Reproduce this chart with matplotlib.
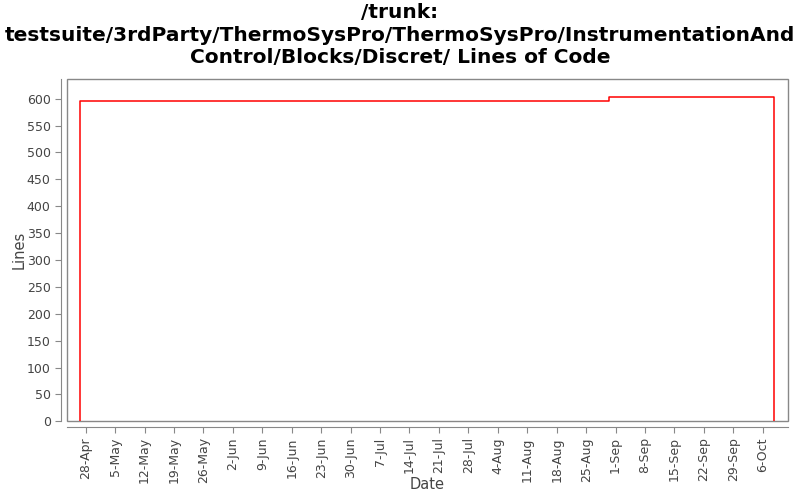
import datetime as dt
import matplotlib
matplotlib.use('Agg')
import matplotlib.pyplot as plt
import matplotlib.dates as mdates
from matplotlib.patches import Rectangle

# step data: (date, lines of code)
dates = [dt.datetime(2008, 4, 26, 16), dt.datetime(2008, 8, 30, 8), dt.datetime(2008, 10, 8, 16)]
lines = [596, 604]

title = ('/trunk:\ntestsuite/3rdParty/ThermoSysPro/ThermoSysPro/InstrumentationAnd\n'
         'Control/Blocks/Discret/ Lines of Code')

xs = [dates[0]]
ys = [0]
for i, v in enumerate(lines):
    xs += [dates[i], dates[i + 1]]
    ys += [v, v]
xs.append(dates[-1])
ys.append(0)

fig = plt.figure(figsize=(8, 5), dpi=100)
ax = fig.add_axes([0.0834, 0.1574, 0.9016, 0.684])

ax.plot(xs, ys, color='red', lw=1.1)

ax.set_xlim(dt.datetime(2008, 4, 23, 12), dt.datetime(2008, 10, 12))
ax.set_ylim(0, 636)
ax.set_yticks(range(0, 601, 50))

ax.xaxis.set_major_locator(mdates.WeekdayLocator(byweekday=mdates.MO))
ax.xaxis.set_major_formatter(mdates.DateFormatter('%-d-%b'))

for s in ['top', 'right']:
    ax.spines[s].set_visible(False)
for s in ['left', 'bottom']:
    ax.spines[s].set_position(('outward', 4))
    ax.spines[s].set_color('#888888')
ax.add_patch(Rectangle((0, 0), 1, 1, transform=ax.transAxes, fill=False,
                       ec='#888888', lw=1, clip_on=False))

ax.tick_params(axis='both', colors='#888888', labelcolor='#444444', labelsize=9, length=4)
plt.setp(ax.get_xticklabels(), rotation=90)

ax.set_xlabel('Date', fontsize=10.5, color='#444444')
ax.xaxis.set_label_coords(0.5, -0.163)
ax.set_ylabel('Lines', fontsize=10.5, color='#444444')
ax.yaxis.set_label_coords(-0.056, 0.5)
fig.text(0.5, 0.993, title, ha='center', va='top', fontsize=14.5,
         fontweight='bold', linespacing=1.22)

fig.savefig('out.png', dpi=100)
